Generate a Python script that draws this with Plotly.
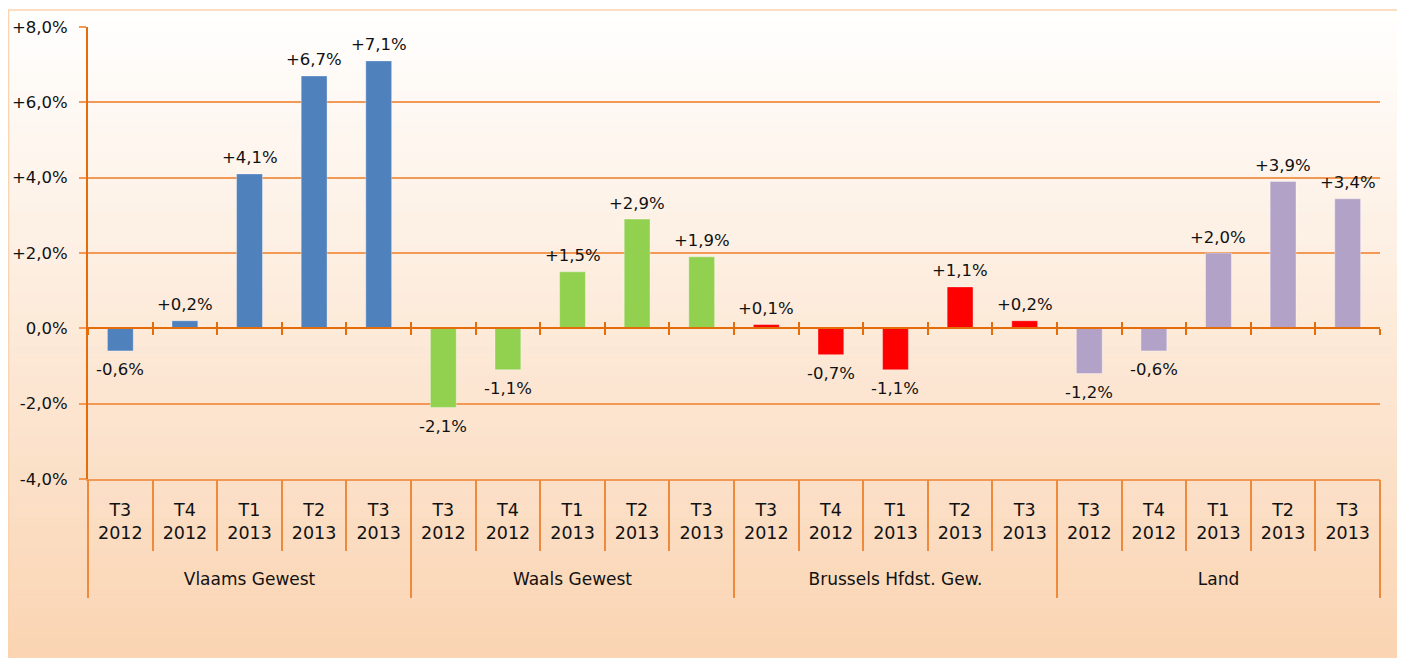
import plotly.graph_objects as go

# ---------------- data ----------------
groups = ["Vlaams Gewest", "Waals Gewest", "Brussels Hfdst. Gew.", "Land"]
quarters = ["T3<br>2012", "T4<br>2012", "T1<br>2013", "T2<br>2013", "T3<br>2013"]
vlaams = [-0.6, 0.2, 4.1, 6.7, 7.1]
waals = [-2.1, -1.1, 1.5, 2.9, 1.9]
brussel = [0.1, -0.7, -1.1, 1.1, 0.2]
land = [-1.2, -0.6, 2.0, 3.9, 3.44]
group_colors = ["#4F81BD", "#92D050", "#FF0000", "#B3A2C7"]
y_ticks = [-4, -2, 0, 2, 4, 6, 8]

# ---------------- derived ----------------
series = [vlaams, waals, brussel, land]
n_q = len(quarters)
values, colors, xlabels = [], [], []
for g, s in enumerate(series):
    values += s
    colors += [group_colors[g]] * len(s)
    xlabels += quarters
n = len(values)
xs = list(range(n))


def pct(v, sign=True):
    s = f"{v:+.1f}%" if (sign and round(v, 1) != 0) else f"{v:.1f}%"
    return s.replace(".", ",")


ytext = [pct(t) for t in y_ticks]
bar_text = [pct(v) for v in values]

# page body has an 8px default margin -> figure is offset by 8px
OFF = 8
W, H = 1405 - OFF, 658 - OFF
ML, MR, MT, MB = 88 - OFF, 25, 27 - OFF, 179
PW, PH = W - ML - MR, H - MT - MB


def px_x(p):  # window pixel -> paper
    return (p - OFF - ML) / PW


def px_y(p):
    return (H - MB - (p - OFF)) / PH


ORANGE_DARK = "#E46C0A"
ORANGE = "#F29A55"
ORANGE_SEP = "#EE8A3C"
FONT = "DejaVu Sans"
TXT = "#111111"

fig = go.Figure()
fig.add_trace(go.Bar(
    x=xs, y=values, width=0.4,
    marker=dict(color=colors, line=dict(color="rgba(255,255,255,0.35)", width=1)),
    hoverinfo="skip", showlegend=False,
))
# invisible anchors so the overlay axes get drawn
for k in range(2, 7):
    fig.add_trace(go.Scatter(x=[0], y=[0], xaxis=f"x{k}", yaxis="y", mode="markers",
                             marker=dict(opacity=0), hoverinfo="skip", showlegend=False))

# data labels
for x, v, t in zip(xs, values, bar_text):
    fig.add_annotation(x=x, y=v, text=t, showarrow=False, xanchor="center",
                       yanchor="middle", yshift=16 if v >= 0 else -19,
                       font=dict(family=FONT, size=16.5, color=TXT))

# background gradient panel
top_c = (255, 255, 255)
bot_c = (250, 212, 178)
y0p, y1p = 10, 658
nb = 64
for i in range(nb):
    a = y0p + (y1p - y0p) * i / nb
    b = y0p + (y1p - y0p) * (i + 1) / nb
    t = (i + 0.5) / nb
    c = tuple(round(top_c[k] + (bot_c[k] - top_c[k]) * t) for k in range(3))
    fig.add_shape(type="rect", xref="paper", yref="paper", layer="below",
                  x0=px_x(5), x1=px_x(1403), y0=px_y(b + 0.6), y1=px_y(a),
                  fillcolor=f"rgb{c}", line=dict(width=0))
fig.add_shape(type="rect", xref="paper", yref="paper", layer="below",
              x0=px_x(8.5), x1=px_x(1403), y0=px_y(660), y1=px_y(10),
              fillcolor="rgba(0,0,0,0)", line=dict(color="#FAD3B0", width=1.5))

rng = [-0.5005, n - 0.4995]
bounds = [i - 0.5 for i in range(n + 1)]
gbounds = [g * n_q - 0.5 for g in range(len(groups) + 1)]
gcenters = [g * n_q + (n_q - 1) / 2 for g in range(len(groups))]

common = dict(overlaying="x", range=rng, tickmode="array", showgrid=False,
              zeroline=False, fixedrange=True, automargin=False)

fig.update_layout(
    width=W, height=H,
    margin=dict(l=ML, r=MR, t=MT, b=MB),
    paper_bgcolor="white", plot_bgcolor="rgba(0,0,0,0)",
    bargap=0.6, showlegend=False,
    font=dict(family=FONT, color=TXT),
    xaxis=dict(range=rng, tickmode="array", tickvals=xs, ticktext=xlabels,
               ticks="", showgrid=False, zeroline=False, showline=True,
               linecolor=ORANGE, linewidth=1.5, automargin=False,
               tickfont=dict(family=FONT, size=17.5, color=TXT),
               ticklabelstandoff=14, fixedrange=True),
    xaxis2=dict(**common, anchor="y", side="bottom",
                tickvals=bounds, ticks="outside", ticklen=71,
                tickwidth=1.5, tickcolor=ORANGE_SEP, showticklabels=False, showline=False),
    xaxis3=dict(**common, anchor="y", side="bottom",
                tickvals=gbounds, ticks="outside", ticklen=118,
                tickwidth=1.5, tickcolor=ORANGE_SEP, showticklabels=False, showline=False),
    xaxis4=dict(**common, anchor="y", side="bottom",
                tickvals=gcenters, ticktext=groups, ticks="",
                tickfont=dict(family=FONT, size=17, color=TXT),
                ticklabelstandoff=88, showline=False),
    xaxis5=dict(**common, anchor="free", position=4 / 12, side="bottom",
                tickvals=bounds, ticks="outside", ticklen=6,
                tickwidth=1.5, tickcolor=ORANGE_DARK, showticklabels=False,
                showline=True, linecolor=ORANGE_DARK, linewidth=2),
    xaxis6=dict(**common, anchor="free", position=4 / 12, side="bottom",
                tickvals=bounds, ticks="inside", ticklen=6,
                tickwidth=1.5, tickcolor=ORANGE_DARK, showticklabels=False,
                showline=False),
    yaxis=dict(range=[-4, 8], tickmode="array", tickvals=y_ticks, ticktext=ytext,
               showgrid=True, gridcolor=ORANGE, gridwidth=1.5,
               zeroline=False, showline=True, linecolor=ORANGE_DARK, linewidth=2,
               ticks="outside", ticklen=7, tickcolor=ORANGE, tickwidth=1.5,
               tickfont=dict(family=FONT, size=16.5, color=TXT), automargin=False,
               ticklabelstandoff=8, fixedrange=True),
)

fig.write_html("out.html")
